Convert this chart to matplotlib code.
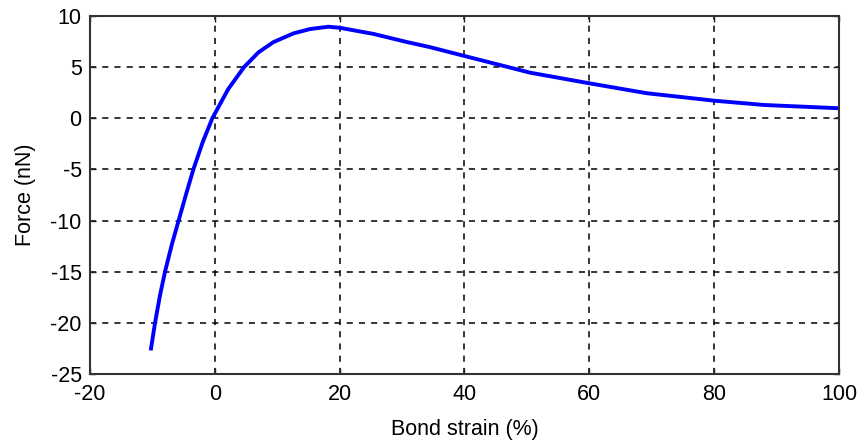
import matplotlib
matplotlib.use("Agg")
import matplotlib.pyplot as plt

strain = [-10.27, -9.58, -8.78, -7.98, -6.89, -5.8, -4.62, -3.44, -1.92, -0.4, 2.14, 4.68, 7.0,
          9.4, 12.6, 15.3, 18.2, 20.0, 25.4, 30.8, 34.5, 40.0, 50.5, 60.0, 69.2, 80.0, 88.0, 100.0]
force = [-22.7, -20.0, -17.3, -15.0, -12.35, -10.0, -7.45, -5.0, -2.3, 0.0, 2.85, 5.0, 6.45,
         7.45, 8.3, 8.73, 8.95, 8.85, 8.25, 7.45, 6.95, 6.09, 4.46, 3.42, 2.45, 1.72, 1.3, 0.98]

xticks = [-20, 0, 20, 40, 60, 80, 100]
yticks = [-25, -20, -15, -10, -5, 0, 5, 10]

plt.rcParams['font.family'] = ['Liberation Sans', 'DejaVu Sans']
plt.rcParams['axes.unicode_minus'] = False

fig = plt.figure(figsize=(8.62, 4.43), dpi=100)
ax = fig.add_axes([0.1044, 0.1558, 0.8689, 0.8081])
ax.plot(strain, force, color='#0000ff', lw=2.8, solid_capstyle='butt', solid_joinstyle='round')
ax.set_xlim(-20, 100)
ax.set_ylim(-25, 10)
ax.set_xticks(xticks)
ax.set_yticks(yticks)
ax.grid(True, color='black', linestyle=(0, (4, 4)), lw=1.1)
ax.tick_params(direction='in', length=4, width=1, labelsize=15.5, top=True, right=True,
               colors='#222222', labelcolor='black')
ax.tick_params(axis='x', pad=7)
ax.tick_params(axis='y', pad=6)
for s in ax.spines.values():
    s.set_color('#333333')
    s.set_linewidth(1.5)
ax.set_xlabel('Bond strain (%)', fontsize=15.5, labelpad=10)
ax.set_ylabel('Force (nN)', fontsize=15.5, labelpad=10)
fig.savefig('out.png', dpi=100)
